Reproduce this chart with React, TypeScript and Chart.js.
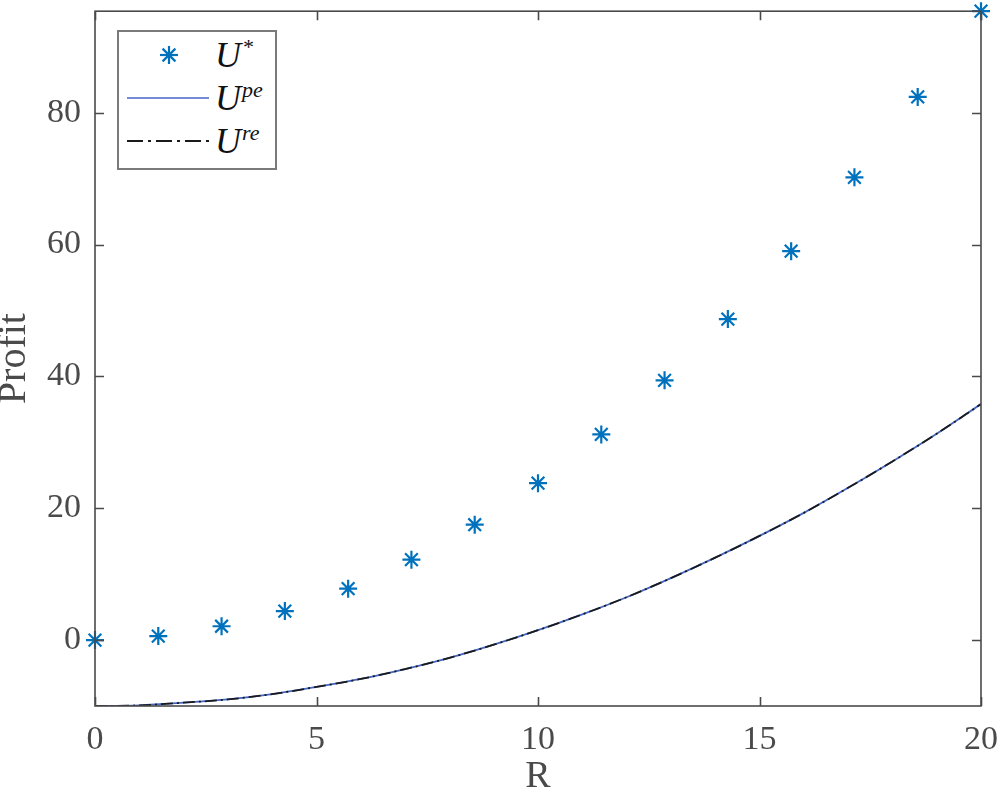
import React, { useEffect, useRef } from "react";
import { Chart, registerables } from "chart.js";

Chart.register(...registerables);

// U* (markers)
const starR = [0, 1.4286, 2.8571, 4.2857, 5.7143, 7.1429, 8.5714, 10, 11.4286, 12.8571, 14.2857, 15.7143, 17.1429, 18.5714, 20];
const starU = [0, 0.6, 2.1, 4.4, 7.8, 12.2, 17.5, 23.8, 31.2, 39.4, 48.7, 59.0, 70.2, 82.4, 95.4];

// U^pe and U^re (curves, overlapping)
const lineR = [0, 1, 2, 3, 4, 5, 6, 7, 8, 9, 10, 11, 12, 13, 14, 15, 16, 17, 18, 19, 20];
const linePe = [-10, -9.9, -9.5, -9.0, -8.2, -7.1, -5.9, -4.4, -2.7, -0.7, 1.5, 3.9, 6.5, 9.4, 12.5, 15.8, 19.3, 23.1, 27.1, 31.3, 35.8];
const lineRe = [-10, -9.9, -9.5, -9.0, -8.2, -7.1, -5.9, -4.4, -2.7, -0.7, 1.5, 3.9, 6.5, 9.4, 12.5, 15.8, 19.3, 23.1, 27.1, 31.3, 35.8];

const xTicks = [0, 5, 10, 15, 20];
const yTicks = [0, 20, 40, 60, 80];
const xMin = 0, xMax = 20, yMin = -10, yMax = 95.4;

const AX = "#4a4a4a";
const FONT = "'Liberation Serif', 'DejaVu Serif', serif";

const boxPlugin = {
  id: "matlabBox",
  afterDatasetsDraw(chart: any) {
    const { ctx, chartArea: a, scales } = chart;
    ctx.save();
    ctx.strokeStyle = AX;
    ctx.lineWidth = 1.6;
    ctx.beginPath();
    const L = 9;
    xTicks.forEach((v) => {
      const px = Math.round(scales.x.getPixelForValue(v)) + 0.5;
      ctx.moveTo(px, a.bottom); ctx.lineTo(px, a.bottom - L);
      ctx.moveTo(px, a.top); ctx.lineTo(px, a.top + L);
    });
    yTicks.forEach((v) => {
      const py = Math.round(scales.y.getPixelForValue(v)) + 0.5;
      ctx.moveTo(a.left, py); ctx.lineTo(a.left + L, py);
      ctx.moveTo(a.right, py); ctx.lineTo(a.right - L, py);
    });
    ctx.stroke();
    ctx.strokeRect(a.left, a.top, a.right - a.left, a.bottom - a.top);
    ctx.restore();
  },
};

function LegendSample({ kind }: { kind: "star" | "solid" | "dashdot" }) {
  if (kind === "star") {
    return (
      <svg width={84} height={24} style={{ display: "block" }}>
        <g stroke="#0072BD" strokeWidth={2.2}>
          <line x1={42} y1={3} x2={42} y2={21} />
          <line x1={33} y1={12} x2={51} y2={12} />
          <line x1={35.6} y1={5.6} x2={48.4} y2={18.4} />
          <line x1={35.6} y1={18.4} x2={48.4} y2={5.6} />
        </g>
      </svg>
    );
  }
  return (
    <svg width={84} height={24} style={{ display: "block" }}>
      <line
        x1={0}
        y1={12}
        x2={82}
        y2={12}
        stroke={kind === "solid" ? "#4466C4" : "#1a1a1a"}
        strokeWidth={kind === "solid" ? 1.6 : 1.8}
        strokeDasharray={kind === "dashdot" ? "16 5 3 5" : undefined}
      />
    </svg>
  );
}

export default function App() {
  const ref = useRef<HTMLCanvasElement | null>(null);

  useEffect(() => {
    if (!ref.current) return;
    const chart = new Chart(ref.current, {
      type: "scatter",
      data: {
        datasets: [
          {
            label: "U*",
            data: starR.map((x, i) => ({ x, y: starU[i] })),
            showLine: false,
            pointStyle: "star",
            pointRadius: 9,
            pointBorderWidth: 2.2,
            borderColor: "#0072BD",
            backgroundColor: "#0072BD",
            clip: false as any,
            order: 2,
          },
          {
            label: "U^pe",
            data: lineR.map((x, i) => ({ x, y: linePe[i] })),
            showLine: true,
            pointRadius: 0,
            borderColor: "#4466C4",
            borderWidth: 1.8,
            cubicInterpolationMode: "monotone",
            order: 1,
          },
          {
            label: "U^re",
            data: lineR.map((x, i) => ({ x, y: lineRe[i] })),
            showLine: true,
            pointRadius: 0,
            borderColor: "#1a1a1a",
            borderWidth: 1.8,
            borderDash: [12, 4, 2, 4],
            cubicInterpolationMode: "monotone",
            order: 0,
          },
        ],
      },
      options: {
        animation: false,
        responsive: false,
        layout: { padding: { top: 8, right: 17, left: 0, bottom: 0 } },
        plugins: { legend: { display: false }, tooltip: { enabled: false } },
        scales: {
          x: {
            type: "linear",
            min: xMin,
            max: xMax,
            afterBuildTicks: (s: any) => {
              s.ticks = xTicks.map((v) => ({ value: v }));
            },
            afterFit: (s: any) => {
              s.height = 86;
              s.paddingLeft = 0;
              s.paddingRight = 0;
            },
            grid: { display: false, drawTicks: false },
            border: { display: false },
            ticks: {
              color: AX,
              font: { family: FONT, size: 34 },
              padding: 14,
              maxRotation: 0,
              autoSkip: false,
            },
            title: {
              display: true,
              text: "R",
              color: AX,
              font: { family: FONT, size: 38 },
              padding: { top: 0, bottom: -8 },
            },
          },
          y: {
            type: "linear",
            min: yMin,
            max: yMax,
            afterBuildTicks: (s: any) => {
              s.ticks = yTicks.map((v) => ({ value: v }));
            },
            afterFit: (s: any) => {
              s.width = 95;
              s.paddingTop = 0;
              s.paddingBottom = 0;
            },
            grid: { display: false, drawTicks: false },
            border: { display: false },
            ticks: {
              color: AX,
              font: { family: FONT, size: 34 },
              padding: 14,
              autoSkip: false,
            },
            title: {
              display: true,
              text: "Profit",
              color: AX,
              font: { family: FONT, size: 40 },
              padding: { top: -10, bottom: 0 },
            },
          },
        },
      },
      plugins: [boxPlugin],
    });
    return () => chart.destroy();
  }, []);

  const rowStyle: React.CSSProperties = {
    position: "absolute",
    left: 8,
    height: 40,
    display: "flex",
    alignItems: "center",
  };
  const textStyle: React.CSSProperties = {
    fontFamily: FONT,
    fontStyle: "italic",
    fontSize: 36,
    color: "#111",
    marginLeft: 4,
    lineHeight: "40px",
    whiteSpace: "nowrap",
  };
  const supStyle: React.CSSProperties = {
    fontSize: 22,
    verticalAlign: "13px",
    lineHeight: 0,
    marginLeft: 1,
  };

  return (
    <div style={{ position: "fixed", left: 0, top: 0, width: 998, height: 792, background: "#fff" }}>
      <canvas ref={ref} width={998} height={792} style={{ width: 998, height: 792, display: "block" }} />
      <div
        style={{
          position: "absolute",
          left: 117,
          top: 30,
          width: 156,
          height: 136,
          border: "2px solid #7a7a7a",
          background: "#fff",
          boxSizing: "content-box",
        }}
      >
        <div style={{ ...rowStyle, top: 3 }}>
          <LegendSample kind="star" />
          <span style={textStyle}>
            U<span style={supStyle}>*</span>
          </span>
        </div>
        <div style={{ ...rowStyle, top: 46 }}>
          <LegendSample kind="solid" />
          <span style={textStyle}>
            U<span style={supStyle}>pe</span>
          </span>
        </div>
        <div style={{ ...rowStyle, top: 89 }}>
          <LegendSample kind="dashdot" />
          <span style={textStyle}>
            U<span style={supStyle}>re</span>
          </span>
        </div>
      </div>
    </div>
  );
}
